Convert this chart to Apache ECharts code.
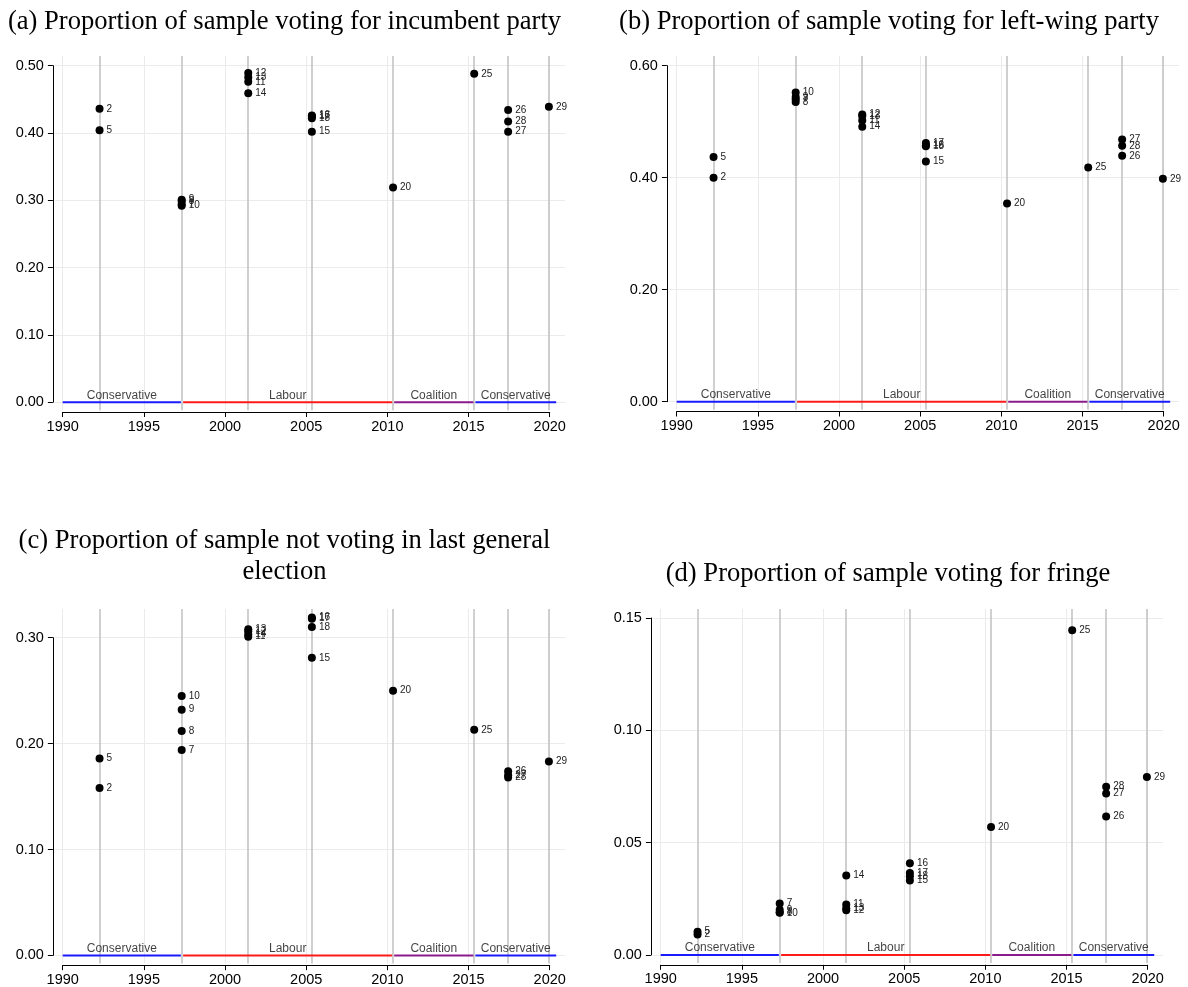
<!DOCTYPE html>
<html>
<head>
<meta charset="utf-8">
<script src="https://cdn.jsdelivr.net/npm/echarts@6/dist/echarts.min.js"></script>
<style>
  html, body { margin: 0; padding: 0; background: #fff; }
  #chart { width: 1188px; height: 987px; }
</style>
</head>
<body>
<div id="chart"></div>
<script>
// Survey waves and the general election each one follows
const waves        = [2, 5, 7, 8, 9, 10, 11, 12, 13, 14, 15, 16, 17, 18, 20, 25, 26, 27, 28, 29];
const waveElection = [1992.27, 1992.27, 1997.33, 1997.33, 1997.33, 1997.33, 2001.43, 2001.43, 2001.43, 2001.43,
                      2005.35, 2005.35, 2005.35, 2005.35, 2010.35, 2015.35, 2017.44, 2017.44, 2017.44, 2019.95];
const electionDates = [1992.27, 1997.33, 2001.43, 2005.35, 2010.35, 2015.35, 2017.44, 2019.95];

// Proportions per wave
const incumbentShare = [0.436, 0.404, 0.294, 0.299, 0.301, 0.292, 0.476, 0.489, 0.483, 0.459,
                        0.402, 0.426, 0.425, 0.422, 0.319, 0.488, 0.434, 0.402, 0.417, 0.439];
const leftWingShare  = [0.400, 0.437, 0.540, 0.535, 0.544, 0.552, 0.502, 0.513, 0.510, 0.491,
                        0.429, 0.458, 0.462, 0.456, 0.354, 0.418, 0.439, 0.468, 0.457, 0.398];
const nonVoteShare   = [0.158, 0.186, 0.194, 0.212, 0.232, 0.245, 0.301, 0.306, 0.308, 0.303,
                        0.281, 0.319, 0.318, 0.310, 0.250, 0.213, 0.174, 0.170, 0.168, 0.183];
const fringeShare    = [0.0091, 0.0104, 0.0229, 0.0190, 0.0201, 0.0188, 0.0225, 0.0199, 0.0208, 0.0354,
                        0.0332, 0.0408, 0.0365, 0.0350, 0.057, 0.1446, 0.0616, 0.0719, 0.0749, 0.0792];

// Governments in office
const govNames  = ['Conservative', 'Labour', 'Coalition', 'Conservative'];
const govStarts = [1990.0, 1997.42, 2010.42, 2015.42];
const govEnds   = [1997.28, 2010.3, 2015.3, 2020.4];
const govColors = ['#1a1aff', '#ff1a1a', '#8b1a8b', '#1a1aff'];

const xTicks = [1990, 1995, 2000, 2005, 2010, 2015, 2020];

const panels = [
  { title: ['(a) Proportion of sample voting for incumbent party'], titleX: 284.5, titleY: [22],
    values: incumbentShare, yTop: 0.5, yStep: 0.1,
    core: { left: 62.7, right: 549.7, top: 65.7, bottom: 402.2 }, padTop: 9.7 },
  { title: ['(b) Proportion of sample voting for left-wing party'], titleX: 889, titleY: [22],
    values: leftWingShare, yTop: 0.6, yStep: 0.2,
    core: { left: 676.7, right: 1163.7, top: 65.7, bottom: 401.7 }, padTop: 9.7 },
  { title: ['(c) Proportion of sample not voting in last general', 'election'], titleX: 284.5, titleY: [541, 572],
    values: nonVoteShare, yTop: 0.3, yStep: 0.1,
    core: { left: 62.7, right: 549.7, top: 637.7, bottom: 955.4 }, padTop: 28.7 },
  { title: ['(d) Proportion of sample voting for fringe'], titleX: 888, titleY: [574],
    values: fringeShare, yTop: 0.15, yStep: 0.05,
    core: { left: 660.7, right: 1147.7, top: 618, bottom: 955 }, padTop: 9 }
];

const PAD_LEFT = 8, PAD_RIGHT = 15.5, PAD_BOTTOM = 8, AXIS_GAP = 9.8;
const SANS = 'Liberation Sans, Arial, sans-serif';

const grid = [], xAxis = [], yAxis = [], series = [], graphic = [];

panels.forEach((p, i) => {
  const c = p.core;
  const pxYear = (c.right - c.left) / 30;
  const pxUnit = (c.bottom - c.top) / p.yTop;
  const a = 2 * i, b = 2 * i + 1;

  // plot region (padded) holding gridlines and marks
  grid.push({ left: c.left - PAD_LEFT, top: c.top - p.padTop,
              width: (c.right - c.left) + PAD_LEFT + PAD_RIGHT,
              height: (c.bottom - c.top) + p.padTop + PAD_BOTTOM, outerBoundsMode: 'none' });
  // axis region spanning exactly the labelled ranges
  grid.push({ left: c.left, top: c.top, width: c.right - c.left, height: c.bottom - c.top, outerBoundsMode: 'none' });

  xAxis.push({ gridIndex: a, type: 'value', show: false,
               min: 1990 - PAD_LEFT / pxYear, max: 2020 + PAD_RIGHT / pxYear });
  yAxis.push({ gridIndex: a, type: 'value', show: false,
               min: -PAD_BOTTOM / pxUnit, max: p.yTop + p.padTop / pxUnit });

  xAxis.push({ gridIndex: b, type: 'value', min: 1990, max: 2020, interval: 5, offset: AXIS_GAP,
               axisLine: { show: true, onZero: false, lineStyle: { color: '#000', width: 1 } },
               axisTick: { show: true, length: 5, lineStyle: { color: '#000' } },
               axisLabel: { color: '#000', fontFamily: SANS, fontSize: 14.5, margin: 7,
                            formatter: v => String(v) },
               splitLine: { show: false } });
  yAxis.push({ gridIndex: b, type: 'value', min: 0, max: p.yTop, interval: p.yStep, offset: AXIS_GAP,
               axisLine: { show: true, onZero: false, lineStyle: { color: '#000', width: 1 } },
               axisTick: { show: true, length: 5, lineStyle: { color: '#000' } },
               axisLabel: { color: '#000', fontFamily: SANS, fontSize: 14.5, margin: 9,
                            formatter: v => v.toFixed(2) },
               splitLine: { show: false } });

  const yTicks = [];
  for (let k = 0; k <= Math.round(p.yTop / p.yStep); k++) yTicks.push(+(k * p.yStep).toFixed(4));

  // light gridlines
  series.push({ type: 'line', xAxisIndex: a, yAxisIndex: a, data: [], z: 1, silent: true,
    markLine: { z: 1, silent: true, symbol: ['none', 'none'], label: { show: false }, animation: false,
      lineStyle: { type: 'solid', color: '#ebebeb', width: 1 },
      data: xTicks.map(v => ({ xAxis: v })).concat(yTicks.map(v => ({ yAxis: v }))) } });

  // election dates
  series.push({ type: 'line', xAxisIndex: a, yAxisIndex: a, data: [], z: 2, silent: true,
    markLine: { z: 2, silent: true, symbol: ['none', 'none'], label: { show: false }, animation: false,
      lineStyle: { type: 'solid', color: '#c4c4c4', width: 1.6 },
      data: electionDates.map(v => ({ xAxis: v })) } });

  // government periods along zero
  govNames.forEach((name, g) => {
    series.push({ type: 'line', xAxisIndex: a, yAxisIndex: a, z: 3, symbol: 'none', silent: true,
      lineStyle: { color: govColors[g], width: 2 },
      data: [[govStarts[g], 0], [govEnds[g], 0]] });
  });
  series.push({ type: 'scatter', xAxisIndex: a, yAxisIndex: a, z: 4, symbolSize: 0, silent: true,
    data: govNames.map((name, g) => [(govStarts[g] + govEnds[g]) / 2, 0, name]),
    label: { show: true, position: 'top', distance: 1, color: '#111', fontFamily: SANS, fontSize: 12,
             formatter: q => q.data[2] } });

  // survey waves
  series.push({ type: 'scatter', xAxisIndex: a, yAxisIndex: a, z: 5, symbol: 'circle', symbolSize: 8,
    itemStyle: { color: '#000', opacity: 1 },
    data: waves.map((w, k) => [waveElection[k], p.values[k], w]),
    label: { show: true, position: 'right', distance: 3, color: '#222', fontFamily: SANS, fontSize: 10,
             formatter: q => String(q.data[2]) } });

  // panel title
  p.title.forEach((line, j) => {
    graphic.push({ type: 'text', x: p.titleX, y: p.titleY[j],
      style: { text: line, fill: '#000', font: '26.6px "Liberation Serif", "Times New Roman", serif',
               textAlign: 'center', textVerticalAlign: 'middle' } });
  });
});

const chart = echarts.init(document.getElementById('chart'), null, { renderer: 'canvas' });
chart.setOption({
  animation: false,
  backgroundColor: '#fff',
  grid, xAxis, yAxis, series, graphic
});
</script>
</body>
</html>
